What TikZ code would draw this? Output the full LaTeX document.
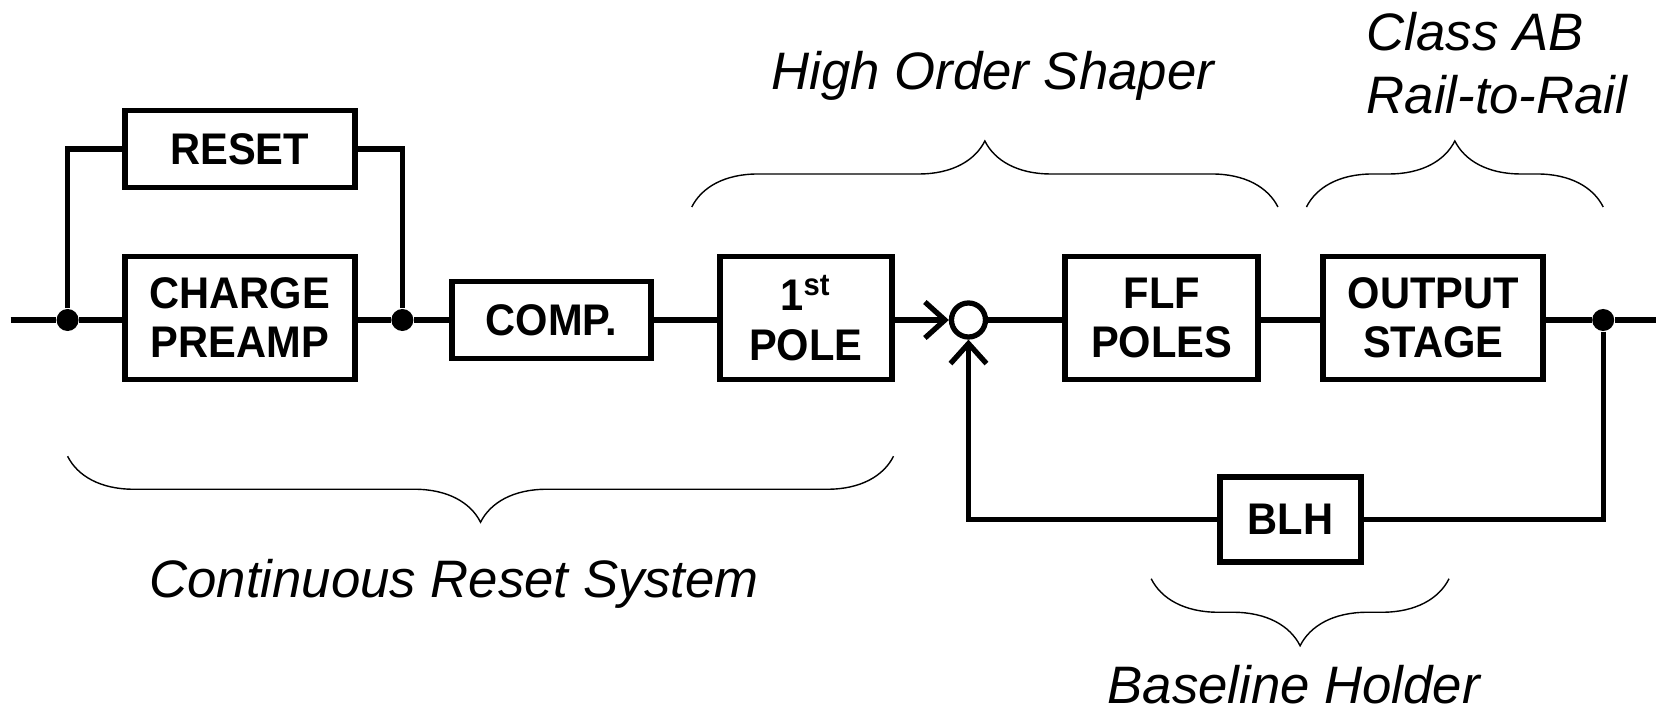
\documentclass[tikz,border=0pt]{standalone}
\usepackage{fontspec}
\setmainfont{Liberation Sans}
\newfontfamily\blockfont{Liberation Sans}[FakeStretch=0.94]
\usetikzlibrary{positioning}
\usetikzlibrary{arrows.meta}
\usetikzlibrary{decorations.pathreplacing}
\tikzset{
    blockn/.style = {rectangle, line width=1.6pt, draw=black, align=center, fill=white, inner sep=0pt, font=\blockfont\bfseries\fontsize{12.6}{14}\selectfont},
    sumn/.style = {circle, line width=1.5pt, draw=black, fill=white, minimum size=0.34cm, inner sep=0pt},
    dotn/.style = {circle, fill=black, minimum size=0.22cm, inner sep=0pt},
    edgen/.style = {line width=1.5pt},
    edgea/.style = {-{Straight Barb[length=2mm,width=3.6mm]}, line width=1.5pt},
    bracen/.style = {decorate, decoration={brace,amplitude=#1}, line width=0.4pt},
    labeln/.style = {font=\itshape\fontsize{15}{18}\selectfont, align=left, inner sep=1pt},
}
\begin{document}
\begin{tikzpicture}[x=0.01056cm,y=-0.01056cm]
\useasboundingbox (0,0) rectangle (1568,674);
%
\coordinate (in) at (10,303);
\coordinate (out) at (1568,303);
\node[dotn] at (64,303) (d1) {};
\node[dotn] at (381,303) (d2) {};
\node[dotn] at (1518,303) (d3) {};
\node[blockn, minimum width=2.3cm, minimum height=0.77cm] at (227,141) (reset) {RESET};
\node[blockn, minimum width=2.3cm, minimum height=1.23cm] at (227,301) (preamp) {CHARGE\\PREAMP};
\node[blockn, minimum width=1.99cm, minimum height=0.77cm] at (522,303) (comp) {COMP.};
\node[blockn, minimum width=1.72cm, minimum height=1.23cm] at (763,301) (pole) {1\textsuperscript{st}\\POLE};
\node[sumn] at (917,303) (sum) {};
\node[blockn, minimum width=1.93cm, minimum height=1.23cm] at (1100,301) (flf) {FLF\\POLES};
\node[blockn, minimum width=2.2cm, minimum height=1.23cm] at (1357,301) (outst) {OUTPUT\\STAGE};
\node[blockn, minimum width=1.41cm, minimum height=0.85cm] at (1222,492) (blh) {BLH};
%
\draw[edgen] (in) -- (d1) -- (d1 -| preamp.west);
\draw[edgen] (d1 -| preamp.east) -- (d2) -- (comp.west);
\draw[edgen] (d1) |- (reset.west);
\draw[edgen] (reset.east) -| (d2);
\draw[edgen] (comp.east) -- (comp.east -| pole.west);
\draw[edgea] (comp.east -| pole.east) -- (sum.west);
\draw[edgen] (sum.east) -- (sum.east -| flf.west);
\draw[edgen] (sum.east -| flf.east) -- (sum.east -| outst.west);
\draw[edgen] (d3 -| outst.east) -- (d3) -- (out);
\draw[edgen] (d3) |- (blh.east);
\draw[edgea] (blh.west) -| (sum.south);
%
\draw[bracen=0.66cm] (846,432) -- (64,432);
\draw[bracen=0.66cm] (655,196) -- (1210,196);
\draw[bracen=0.66cm] (1237,196) -- (1518,196);
\draw[bracen=0.67cm] (1372,548) -- (1090,548);
%
\node[labeln] at (940,72) (hos) {High Order Shaper};
\node[labeln, anchor=west] at (1290,60) (cab) {Class AB\\Rail-to-Rail};
\node[labeln] at (430,553) (crs) {Continuous Reset System};
\node[labeln] at (1225,648) (blhl) {Baseline Holder};
\end{tikzpicture}
\end{document}
